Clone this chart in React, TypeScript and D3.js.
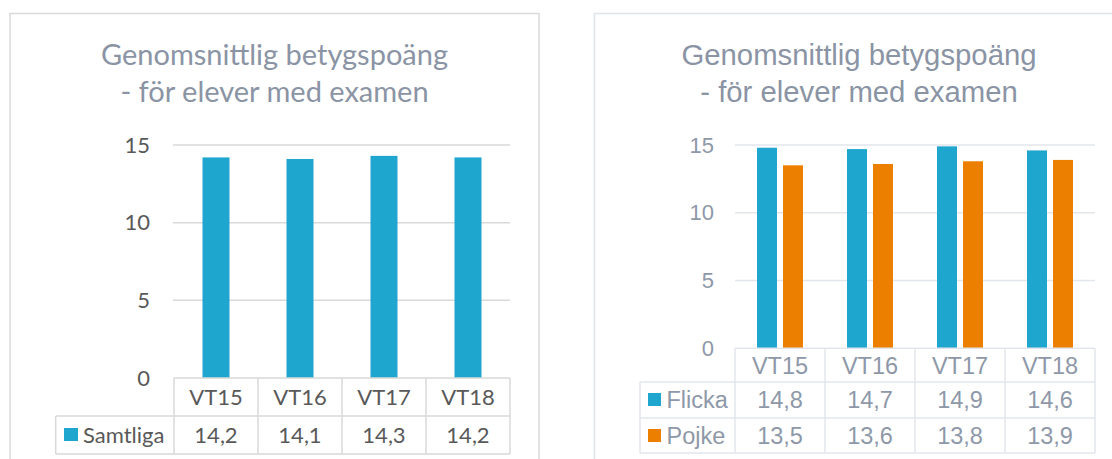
import React from "react";
import * as d3 from "d3";

const categories = ["VT15", "VT16", "VT17", "VT18"];
const samtliga = [14.2, 14.1, 14.3, 14.2];
const flicka = [14.8, 14.7, 14.9, 14.6];
const pojke = [13.5, 13.6, 13.8, 13.9];
const yTicks = [0, 5, 10, 15];
const titleLines = ["Genomsnittlig betygspoäng", "- för elever med examen"];
const seriesNames = ["Samtliga", "Flicka", "Pojke"];

const BLUE = "#1FA6CF";
const ORANGE = "#EC7F00";

const locale = d3.formatLocale({ decimal: ",", thousands: " ", grouping: [3], currency: ["", " kr"] });
const fmt = locale.format(".1f");

export default function App() {
  // Left chart
  const lx = d3.scaleBand<string>().domain(categories).range([174, 510]);
  const ly = d3.scaleLinear().domain([0, 15]).range([378, 145]);
  const lGrid = "#D9D9D9";
  const lText = "#595959";
  const lFont = "Lato, 'Open Sans', sans-serif";

  // Right chart
  const rx = d3.scaleBand<string>().domain(categories).range([735, 1095]);
  const ry = d3.scaleLinear().domain([0, 15]).range([348.3, 145]);
  const rGrid = "#E2E6EB";
  const rText = "#8E98A8";
  const rFont = "'Liberation Sans', Arial, sans-serif";

  const lBarW = 27;
  const rBarW = 20;
  const rGap = 6;

  const lRows = [378, 416, 454];
  const rRows = [348.3, 382, 418, 453];

  return (
    <svg width={1112} height={459} style={{ position: "absolute", left: 0, top: 0, background: "#fff" }}>
      {/* Panel borders */}
      <rect x={10} y={13.5} width={529} height={470} fill="#fff" stroke="#D9D9D9" strokeWidth={1.5} />
      <rect x={594.5} y={13.5} width={540} height={470} fill="#fff" stroke="#E0E3E8" strokeWidth={1.5} />

      {/* LEFT CHART */}
      {titleLines.map((t, i) => (
        <text key={"lt" + i} x={274.5} y={65 + i * 36.5} textAnchor="middle" fontFamily={lFont} fontSize={29} fill="#8A94A4">
          {t}
        </text>
      ))}
      {yTicks.filter((t) => t > 0).map((t) => (
        <line key={"lg" + t} x1={173} x2={510} y1={ly(t)} y2={ly(t)} stroke={lGrid} strokeWidth={1.5} />
      ))}
      {yTicks.map((t) => (
        <text key={"ly" + t} x={150} y={ly(t)} dy="0.35em" textAnchor="end" fontFamily={lFont} fontSize={22} fill={lText}>
          {t}
        </text>
      ))}
      {categories.map((c, i) => (
        <rect
          key={"lb" + c}
          x={(lx(c) as number) + lx.bandwidth() / 2 - lBarW / 2}
          y={ly(samtliga[i])}
          width={lBarW}
          height={ly(0) - ly(samtliga[i])}
          fill={BLUE}
        />
      ))}
      {/* Left table */}
      <g stroke={lGrid} strokeWidth={1.5}>
        <line x1={174} x2={510} y1={lRows[0]} y2={lRows[0]} />
        <line x1={55.7} x2={510} y1={lRows[1]} y2={lRows[1]} />
        <line x1={55.7} x2={510} y1={lRows[2]} y2={lRows[2]} />
        <line x1={55.7} x2={55.7} y1={lRows[1]} y2={lRows[2]} />
        {[...categories.map((c) => lx(c) as number), 510].map((x, i) => (
          <line key={"lv" + i} x1={x} x2={x} y1={lRows[0]} y2={lRows[2]} />
        ))}
      </g>
      {categories.map((c, i) => (
        <g key={"lc" + c} fontFamily={lFont} fontSize={22} fill={lText} textAnchor="middle">
          <text x={(lx(c) as number) + lx.bandwidth() / 2} y={(lRows[0] + lRows[1]) / 2} dy="0.36em">
            {c}
          </text>
          <text x={(lx(c) as number) + lx.bandwidth() / 2} y={(lRows[1] + lRows[2]) / 2} dy="0.36em">
            {fmt(samtliga[i])}
          </text>
        </g>
      ))}
      <rect x={64} y={428} width={14} height={13} fill={BLUE} />
      <text x={83} y={(lRows[1] + lRows[2]) / 2} dy="0.36em" fontFamily={lFont} fontSize={22} fill={lText}>
        {seriesNames[0]}
      </text>

      {/* RIGHT CHART */}
      {titleLines.map((t, i) => (
        <text key={"rt" + i} x={859} y={65 + i * 36.5} textAnchor="middle" fontFamily={rFont} fontSize={29.3} fill="#8A94A4">
          {t}
        </text>
      ))}
      {yTicks.filter((t) => t > 0).map((t) => (
        <line key={"rg" + t} x1={735} x2={1095} y1={ry(t)} y2={ry(t)} stroke={rGrid} strokeWidth={1.5} />
      ))}
      {yTicks.map((t) => (
        <text key={"ry" + t} x={714} y={ry(t)} dy="0.35em" textAnchor="end" fontFamily={rFont} fontSize={22} fill={rText}>
          {t}
        </text>
      ))}
      {categories.map((c, i) => {
        const cx = (rx(c) as number) + rx.bandwidth() / 2;
        return (
          <g key={"rb" + c}>
            <rect x={cx - rGap / 2 - rBarW} y={ry(flicka[i])} width={rBarW} height={ry(0) - ry(flicka[i])} fill={BLUE} />
            <rect x={cx + rGap / 2} y={ry(pojke[i])} width={rBarW} height={ry(0) - ry(pojke[i])} fill={ORANGE} />
          </g>
        );
      })}
      {/* Right table */}
      <g stroke={rGrid} strokeWidth={1.5}>
        <line x1={735} x2={1095} y1={rRows[0]} y2={rRows[0]} />
        {rRows.slice(1).map((y, i) => (
          <line key={"rh" + i} x1={640} x2={1095} y1={y} y2={y} />
        ))}
        <line x1={640} x2={640} y1={rRows[1]} y2={rRows[3]} />
        {[...categories.map((c) => rx(c) as number), 1095].map((x, i) => (
          <line key={"rv" + i} x1={x} x2={x} y1={rRows[0]} y2={rRows[3]} />
        ))}
      </g>
      {categories.map((c, i) => {
        const cx = (rx(c) as number) + rx.bandwidth() / 2;
        return (
          <g key={"rc" + c} fontFamily={rFont} fontSize={23.5} fill={rText} textAnchor="middle">
            <text x={cx} y={(rRows[0] + rRows[1]) / 2} dy="0.36em">{c}</text>
            <text x={cx} y={(rRows[1] + rRows[2]) / 2} dy="0.36em">{fmt(flicka[i])}</text>
            <text x={cx} y={(rRows[2] + rRows[3]) / 2} dy="0.36em">{fmt(pojke[i])}</text>
          </g>
        );
      })}
      <rect x={648} y={393} width={13} height={13} fill={BLUE} />
      <text x={666.5} y={(rRows[1] + rRows[2]) / 2} dy="0.36em" fontFamily={rFont} fontSize={23.5} fill={rText}>
        {seriesNames[1]}
      </text>
      <rect x={648} y={429} width={13} height={13} fill={ORANGE} />
      <text x={666.5} y={(rRows[2] + rRows[3]) / 2} dy="0.36em" fontFamily={rFont} fontSize={23.5} fill={rText}>
        {seriesNames[2]}
      </text>
    </svg>
  );
}
